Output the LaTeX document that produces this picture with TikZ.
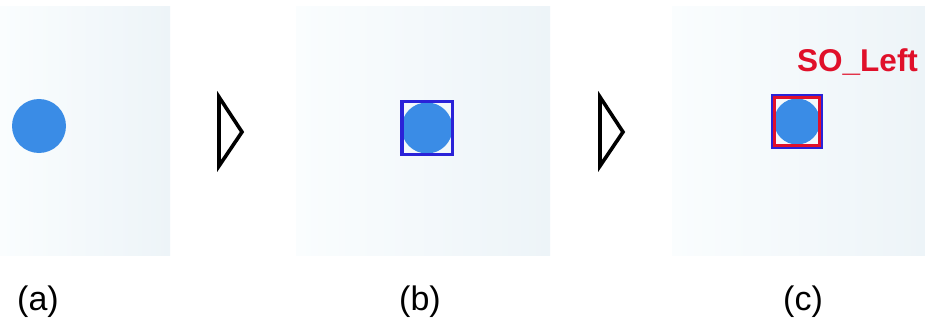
\documentclass[tikz,border=0pt]{standalone}
\usepackage{fontspec}
\setmainfont{Liberation Sans}
\definecolor{dotblue}{HTML}{3A8CE6}
\definecolor{boxblue}{HTML}{2A22D8}
\definecolor{boxred}{HTML}{E0102A}
\definecolor{bgA}{HTML}{FAFDFE}
\definecolor{bgB}{HTML}{EDF4F8}
\tikzset{
  panel/.style={left color=bgA, right color=bgB, draw=none},
  dot/.style={fill=dotblue, draw=none},
  arrowtri/.style={draw=black, line width=3.6pt, line join=miter, fill=white},
  bluebox/.style={draw=boxblue, line width=3.5pt},
  redbox/.style={draw=boxred, line width=2.4pt},
  caption/.style={font=\fontsize{34}{40}\selectfont, inner sep=0pt},
  tag/.style={font=\bfseries\fontsize{31.5}{38}\selectfont, text=boxred, inner sep=0pt, anchor=base west}
}
\begin{document}
\begin{tikzpicture}[x=1pt,y=-1pt]
\useasboundingbox[fill=white] (0,0) rectangle (925,326);
% panels
\path[panel] (0,7) rectangle (170,255);
\path[panel] (296,7) rectangle (550,255);
\path[panel] (672,7) rectangle (925,255);
% (a)
\fill[dot] (39,126) circle (27);
% triangle 1
\coordinate (t1a) at (219,97);
\coordinate (t1b) at (242,132);
\coordinate (t1c) at (219,166);
\draw[arrowtri] (t1a) -- (t1b) -- (t1c) -- cycle;
% (b)
\begin{scope}
\clip (403,103) rectangle (451,153);
\fill[dot] (427,128) circle (25.5);
\end{scope}
\draw[bluebox] (401.75,101.75) rectangle (452.25,154.25);
% triangle 2
\coordinate (t2a) at (600,97);
\coordinate (t2b) at (623,132);
\coordinate (t2c) at (600,166);
\draw[arrowtri] (t2a) -- (t2b) -- (t2c) -- cycle;
% (c)
\begin{scope}
\clip (775,98) rectangle (819,145);
\fill[dot] (797,121.5) circle (23);
\end{scope}
\draw[bluebox, line width=2.2pt] (772.1,95.1) rectangle (821.9,147.9);
\draw[redbox] (774.4,97.4) rectangle (819.6,145.6);
\node[tag] (tagc) at (797,72) {SO\_Left};
% captions
\node[caption] (capa) at (38,302) {(a)};
\node[caption] (capb) at (420,302) {(b)};
\node[caption] (capc) at (803,302) {(c)};
\end{tikzpicture}
\end{document}
